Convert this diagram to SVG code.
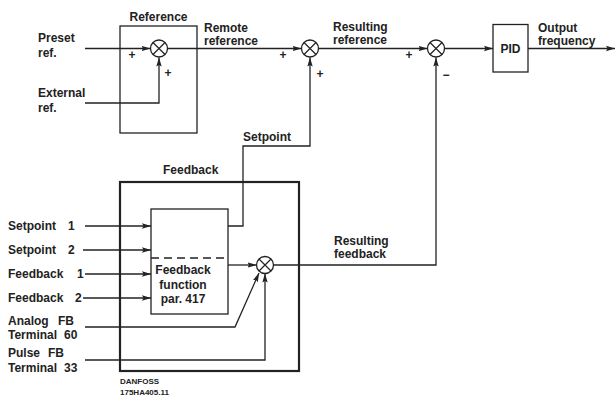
<svg xmlns="http://www.w3.org/2000/svg" width="616" height="398" viewBox="0 0 616 398">
<defs>
<marker id="arr" markerUnits="userSpaceOnUse" markerWidth="10" markerHeight="8" refX="9" refY="3.5" orient="auto">
<path d="M0,0.8 L9,3.5 L0,6.2 L1.5,3.5 z" fill="#222"/>
</marker>
<g id="sum"><circle cx="0" cy="0" r="8.5" fill="#fff" stroke="#222" stroke-width="1.3"/><path d="M-6,-6 L6,6 M6,-6 L-6,6" stroke="#222" stroke-width="1.2"/></g>
</defs>
<style>
text{font-family:"Liberation Sans",Arial,sans-serif;font-weight:bold;font-size:12px;fill:#222}
.sm{font-size:8px}
.ln{fill:none;stroke:#222;stroke-width:1.3}
.a{marker-end:url(#arr)}
.box{fill:none;stroke:#222;stroke-width:1.3}
.mid{text-anchor:middle}
</style>
<rect width="616" height="398" fill="#fff"/>

<g id="connectors">
<path class="ln a" d="M85,48.5 L150.5,48.5"/>
<path class="ln a" d="M85,103 L159,103 L159,57.5"/>
<path class="ln a" d="M167.5,48.5 L301.5,48.5"/>
<path class="ln a" d="M228,226 L243,226 L243,146 L310,146 L310,57.5"/>
<path class="ln a" d="M318.5,48.5 L427.5,48.5"/>
<path class="ln a" d="M273.5,265 L436,265 L436,57.5"/>
<path class="ln a" d="M444.5,48.5 L493,48.5"/>
<path class="ln a" d="M528,48.5 L615,48.5"/>
<path class="ln a" d="M85,226 L151,226"/>
<path class="ln a" d="M83,250 L151,250"/>
<path class="ln a" d="M85,274 L151,274"/>
<path class="ln a" d="M83,298 L151,298"/>
<path class="ln a" d="M228,265 L256.5,265"/>
<path class="ln a" d="M85,327 L235,327 L259,273"/>
<path class="ln a" d="M85,360 L265,360 L265,273.5"/>
</g>

<g id="reference">
<rect class="box" x="120" y="26" width="77" height="107"/>
<text x="158.5" y="21" class="mid">Reference</text>
</g>
<g id="sum1"><use href="#sum" x="159" y="48.5"/>
<text x="132" y="59" class="mid">+</text><text x="168" y="77" class="mid">+</text></g>
<g id="sum2"><use href="#sum" x="310" y="48.5"/>
<text x="283" y="59" class="mid">+</text><text x="320" y="78" class="mid">+</text></g>
<g id="sum3"><use href="#sum" x="436" y="48.5"/>
<text x="409" y="59" class="mid">+</text><text x="446" y="79" class="mid">−</text></g>
<g id="pid">
<rect class="box" x="493" y="24.5" width="35" height="47.5"/>
<text x="510.5" y="53" class="mid">PID</text>
</g>
<g id="feedback">
<rect x="120" y="182" width="179" height="189" fill="none" stroke="#222" stroke-width="2.2"/>
<text x="163" y="174">Feedback</text>
</g>
<g id="fbfunc">
<rect class="box" x="151" y="209" width="77" height="105"/>
<path d="M151,258 L228,258" stroke="#222" stroke-width="1.3" stroke-dasharray="8,5"/>
<text x="183" y="274" class="mid">Feedback</text>
<text x="183" y="289" class="mid">function</text>
<text x="183" y="303" class="mid">par. 417</text>
</g>
<g id="sum4"><use href="#sum" x="265" y="265"/></g>

<g id="labels">
<text x="38" y="42">Preset</text>
<text x="38" y="57">ref.</text>
<text x="38" y="97">External</text>
<text x="38" y="112">ref.</text>
<text x="204" y="32">Remote</text>
<text x="204" y="45">reference</text>
<text x="333" y="31">Resulting</text>
<text x="333" y="44">reference</text>
<text x="538" y="32">Output</text>
<text x="538" y="45">frequency</text>
<text x="243" y="141">Setpoint</text>
<text x="334" y="245">Resulting</text>
<text x="334" y="258">feedback</text>
<text x="8" y="230">Setpoint<tspan x="68">1</tspan></text>
<text x="8" y="254">Setpoint<tspan x="68">2</tspan></text>
<text x="8" y="278">Feedback<tspan x="77">1</tspan></text>
<text x="8" y="302">Feedback<tspan x="75">2</tspan></text>
<text x="8" y="325">Analog<tspan x="58">FB</tspan></text>
<text x="8" y="339">Terminal<tspan x="64">60</tspan></text>
<text x="8" y="357">Pulse<tspan x="48">FB</tspan></text>
<text x="8" y="372">Terminal<tspan x="64">33</tspan></text>
<text x="120" y="384" class="sm">DANFOSS</text>
<text x="120" y="395" class="sm">175HA405.11</text>
</g>
</svg>
